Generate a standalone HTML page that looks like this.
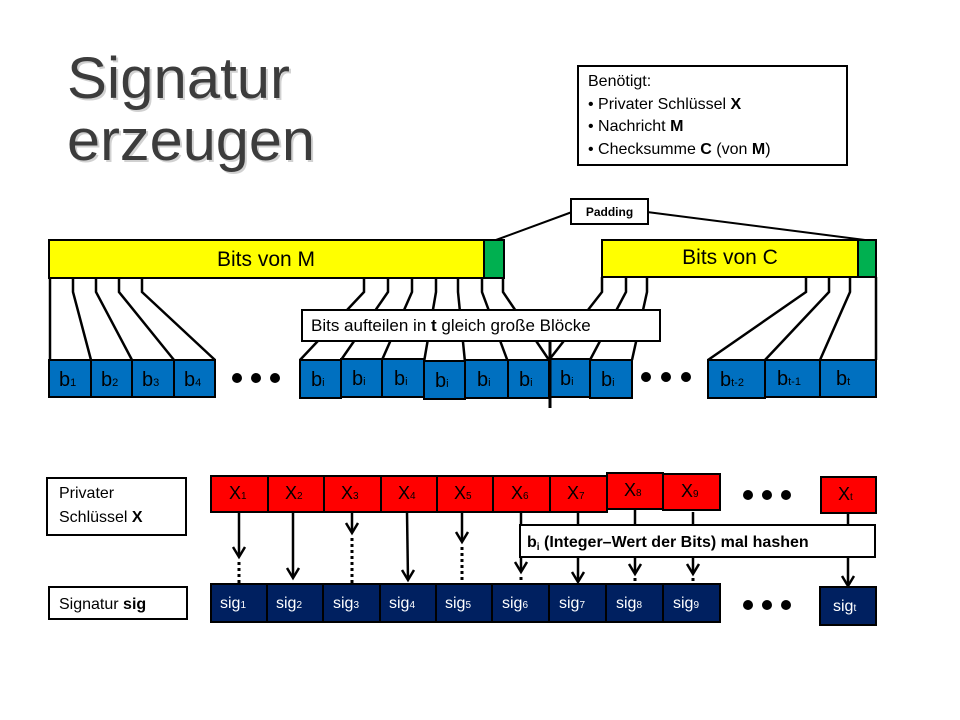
<!DOCTYPE html>
<html><head><meta charset="utf-8"><style>
html,body{margin:0;padding:0;background:#fff;}
svg{display:block;font-family:"Liberation Sans",sans-serif;}
</style></head><body>
<svg width="960" height="720" viewBox="0 0 960 720" xmlns="http://www.w3.org/2000/svg">
<!-- title -->
<g font-size="58" fill="#9a9a9a" opacity="0.45"><text x="69" y="100" textLength="223" lengthAdjust="spacingAndGlyphs">Signatur</text><text x="69" y="162" textLength="248" lengthAdjust="spacingAndGlyphs">erzeugen</text></g>
<g font-size="58" fill="#3c3c3c"><text x="67" y="98" textLength="223" lengthAdjust="spacingAndGlyphs">Signatur</text><text x="67" y="160" textLength="248" lengthAdjust="spacingAndGlyphs">erzeugen</text></g>
<!-- needed box -->
<rect x="578" y="66" width="269" height="99" fill="#fff" stroke="#000" stroke-width="2"/>
<g font-size="16" fill="#000">
<text x="588" y="86">Benötigt:</text>
<text x="588" y="109">•  Privater Schlüssel <tspan font-weight="bold">X</tspan></text>
<text x="588" y="131">•  Nachricht <tspan font-weight="bold">M</tspan></text>
<text x="588" y="154">•  Checksumme <tspan font-weight="bold">C</tspan> (von <tspan font-weight="bold">M</tspan>)</text>
</g>
<!-- padding lines -->
<g stroke="#000" stroke-width="2" fill="none">
<line x1="496" y1="240" x2="572" y2="212"/>
<line x1="647" y1="212" x2="865" y2="240"/>
</g>
<rect x="571" y="199" width="77" height="25" fill="#fff" stroke="#000" stroke-width="2"/>
<text x="609.5" y="216" font-size="12" font-weight="bold" text-anchor="middle">Padding</text>
<!-- split lines -->
<g stroke="#000" stroke-width="2.5" fill="none">
<polyline points="50,278 50,360"/>
<polyline points="73,278 73,292 91,360"/>
<polyline points="96,278 96,292 132,360"/>
<polyline points="119,278 119,292 174,360"/>
<polyline points="142,278 142,292 215,360"/>
<polyline points="364,278 364,292 300,360"/>
<polyline points="388,278 388,292 341,360"/>
<polyline points="412,278 412,292 382,360"/>
<polyline points="436,278 436,292 424,362"/>
<polyline points="458,278 458,292 465,362"/>
<polyline points="482,278 482,292 508,362"/>
<polyline points="503,278 503,292 549,360"/>
<polyline points="602,277 602,292 549,360"/>
<polyline points="626,277 626,292 590,360"/>
<polyline points="647,277 647,292 632,360"/>
<polyline points="806,277 806,292 708,360"/>
<polyline points="829,277 829,292 765,360"/>
<polyline points="850,277 850,292 820,360"/>
<polyline points="876,277 876,360"/>
</g>
<!-- bars -->
<rect x="49" y="240" width="435" height="38" fill="#ffff00" stroke="#000" stroke-width="2"/>
<rect x="484" y="240" width="20" height="38" fill="#00b050" stroke="#000" stroke-width="2"/>
<rect x="602" y="240" width="256" height="37" fill="#ffff00" stroke="#000" stroke-width="2"/>
<rect x="858" y="240" width="18" height="37" fill="#00b050" stroke="#000" stroke-width="2"/>
<text x="266" y="266" font-size="21" text-anchor="middle">Bits von M</text>
<text x="730" y="264" font-size="21" text-anchor="middle">Bits von C</text>
<!-- label -->
<rect x="302" y="310" width="358" height="31" fill="#fff" stroke="#000" stroke-width="2"/>
<text x="311" y="331" font-size="17">Bits aufteilen in <tspan font-weight="bold">t</tspan> gleich große Blöcke</text>
<!-- b blocks -->
<g fill="#0070c0" stroke="#000" stroke-width="2">
<rect x="49" y="360" width="42" height="37"/><rect x="91" y="360" width="41" height="37"/><rect x="132" y="360" width="42" height="37"/><rect x="174" y="360" width="41" height="37"/>
<rect x="300" y="360" width="41" height="38"/><rect x="341" y="359" width="41" height="38"/><rect x="382" y="359" width="42" height="38"/><rect x="424" y="361" width="41" height="38"/><rect x="465" y="360" width="43" height="38"/><rect x="508" y="360" width="41" height="38"/><rect x="549" y="359" width="41" height="38"/><rect x="590" y="360" width="42" height="38"/>
<rect x="708" y="360" width="57" height="38"/><rect x="765" y="360" width="55" height="37"/><rect x="820" y="360" width="56" height="37"/>
</g>
<line x1="550" y1="341" x2="550" y2="408" stroke="#000" stroke-width="3"/>
<g font-size="20" fill="#000">
<text x="59" y="386">b<tspan font-size="11">1</tspan></text><text x="101" y="386">b<tspan font-size="11">2</tspan></text><text x="142" y="386">b<tspan font-size="11">3</tspan></text><text x="184" y="386">b<tspan font-size="11">4</tspan></text>
<text x="311" y="386">b<tspan font-size="11">i</tspan></text><text x="352" y="385">b<tspan font-size="11">i</tspan></text><text x="394" y="385">b<tspan font-size="11">i</tspan></text><text x="435" y="387">b<tspan font-size="11">i</tspan></text><text x="477" y="386">b<tspan font-size="11">i</tspan></text><text x="519" y="386">b<tspan font-size="11">i</tspan></text><text x="560" y="385">b<tspan font-size="11">i</tspan></text><text x="601" y="386">b<tspan font-size="11">i</tspan></text>
<text x="720" y="386">b<tspan font-size="11">t-2</tspan></text><text x="777" y="385">b<tspan font-size="11">t-1</tspan></text><text x="836" y="385">b<tspan font-size="11">t</tspan></text>
</g>
<g fill="#000">
<circle cx="237" cy="378" r="5"/><circle cx="256" cy="378" r="5"/><circle cx="275" cy="378" r="5"/>
<circle cx="646" cy="377" r="5"/><circle cx="666" cy="377" r="5"/><circle cx="686" cy="377" r="5"/>
<circle cx="748" cy="495" r="5"/><circle cx="767" cy="495" r="5"/><circle cx="786" cy="495" r="5"/>
<circle cx="748" cy="605" r="5"/><circle cx="767" cy="605" r="5"/><circle cx="786" cy="605" r="5"/>
</g>
<!-- lower labels -->
<rect x="47" y="478" width="139" height="57" fill="#fff" stroke="#000" stroke-width="2"/>
<text x="59" y="498" font-size="16">Privater</text>
<text x="59" y="522" font-size="16">Schlüssel <tspan font-weight="bold">X</tspan></text>
<rect x="49" y="587" width="138" height="32" fill="#fff" stroke="#000" stroke-width="2"/>
<text x="59" y="609" font-size="16">Signatur <tspan font-weight="bold">sig</tspan></text>
<!-- arrows -->
<g stroke="#000" stroke-width="2.5" fill="none">
<line x1="239" y1="512" x2="239" y2="557"/><polyline points="233,547 239,557 245,547"/>
<line x1="293" y1="512" x2="293" y2="578"/><polyline points="287,568 293,578 299,568"/>
<line x1="352" y1="512" x2="352" y2="533"/><polyline points="346,523 352,533 358,523"/>
<line x1="407" y1="512" x2="408" y2="580"/><polyline points="402,570 408,580 414,570"/>
<line x1="462" y1="512" x2="462" y2="542"/><polyline points="456,532 462,542 468,532"/>
<line x1="521" y1="512" x2="521" y2="572"/><polyline points="515,562 521,572 527,562"/>
<line x1="578" y1="512" x2="578" y2="582"/><polyline points="572,572 578,582 584,572"/>
<line x1="635" y1="509" x2="635" y2="574"/><polyline points="629,564 635,574 641,564"/>
<line x1="693" y1="512" x2="693" y2="574"/><polyline points="687,564 693,574 699,564"/>
<line x1="848" y1="513" x2="848" y2="586"/><polyline points="842,576 848,586 854,576"/>
</g>
<g stroke="#000" stroke-width="3" stroke-dasharray="3,3" fill="none">
<line x1="239" y1="562" x2="239" y2="584"/>
<line x1="352" y1="538" x2="352" y2="584"/>
<line x1="462" y1="547" x2="462" y2="584"/>
<line x1="521" y1="577" x2="521" y2="584"/>
<line x1="635" y1="578" x2="635" y2="584"/>
<line x1="693" y1="578" x2="693" y2="584"/>
</g>
<rect x="520" y="525" width="355" height="32" fill="#fff" stroke="#000" stroke-width="2"/>
<text x="527" y="547" font-size="16" font-weight="bold">b<tspan font-size="10" dy="3">i</tspan><tspan dy="-3"> (Integer–Wert der Bits) mal hashen</tspan></text>
<!-- X blocks -->
<g fill="#ff0000" stroke="#000" stroke-width="2">
<rect x="211" y="476" width="57" height="36"/><rect x="268" y="476" width="56" height="36"/><rect x="324" y="476" width="57" height="36"/><rect x="381" y="476" width="56" height="36"/><rect x="437" y="476" width="56" height="36"/><rect x="493" y="476" width="57" height="36"/><rect x="550" y="476" width="57" height="36"/><rect x="607" y="473" width="56" height="36"/><rect x="663" y="474" width="57" height="36"/><rect x="821" y="477" width="55" height="36"/>
</g>
<g font-size="18" fill="#000">
<text x="229" y="499">X<tspan font-size="10">1</tspan></text><text x="285" y="499">X<tspan font-size="10">2</tspan></text><text x="341" y="499">X<tspan font-size="10">3</tspan></text><text x="398" y="499">X<tspan font-size="10">4</tspan></text><text x="454" y="499">X<tspan font-size="10">5</tspan></text><text x="511" y="499">X<tspan font-size="10">6</tspan></text><text x="567" y="499">X<tspan font-size="10">7</tspan></text><text x="624" y="496">X<tspan font-size="10">8</tspan></text><text x="681" y="497">X<tspan font-size="10">9</tspan></text><text x="838" y="500">X<tspan font-size="10">t</tspan></text>
</g>
<!-- sig blocks -->
<g fill="#002060" stroke="#000" stroke-width="2">
<rect x="211" y="584" width="56" height="38"/><rect x="267" y="584" width="56" height="38"/><rect x="323" y="584" width="57" height="38"/><rect x="380" y="584" width="56" height="38"/><rect x="436" y="584" width="56" height="38"/><rect x="492" y="584" width="57" height="38"/><rect x="549" y="584" width="57" height="38"/><rect x="606" y="584" width="57" height="38"/><rect x="663" y="584" width="57" height="38"/><rect x="820" y="587" width="56" height="38"/>
</g>
<g font-size="16" fill="#fff">
<text x="220" y="608">sig<tspan font-size="10">1</tspan></text><text x="276" y="608">sig<tspan font-size="10">2</tspan></text><text x="333" y="608">sig<tspan font-size="10">3</tspan></text><text x="389" y="608">sig<tspan font-size="10">4</tspan></text><text x="445" y="608">sig<tspan font-size="10">5</tspan></text><text x="502" y="608">sig<tspan font-size="10">6</tspan></text><text x="559" y="608">sig<tspan font-size="10">7</tspan></text><text x="616" y="608">sig<tspan font-size="10">8</tspan></text><text x="673" y="608">sig<tspan font-size="10">9</tspan></text><text x="833" y="611">sig<tspan font-size="10">t</tspan></text>
</g>
</svg>
</body></html>
